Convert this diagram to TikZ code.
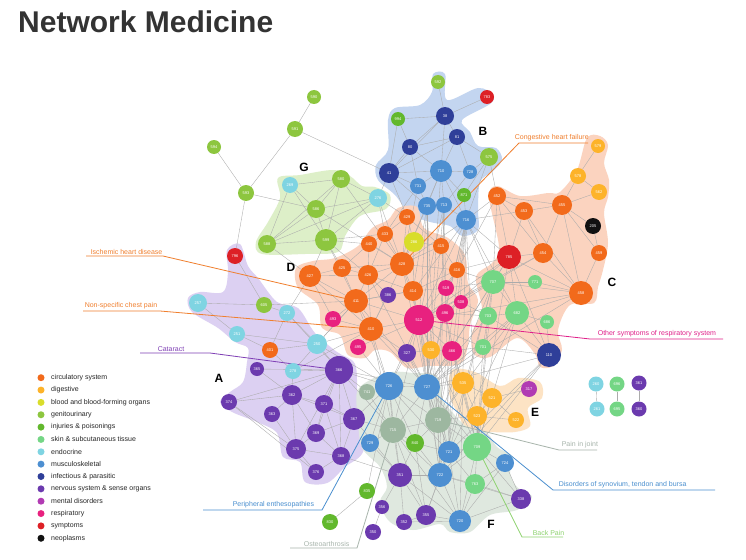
\documentclass[tikz,border=0pt]{standalone}
\usepackage{fontspec}
\setmainfont{Liberation Sans}
\definecolor{circ}{HTML}{F26A1B}
\definecolor{dige}{HTML}{FDB32A}
\definecolor{bloo}{HTML}{D9DD2B}
\definecolor{geni}{HTML}{8DC63F}
\definecolor{inju}{HTML}{62B82D}
\definecolor{skin}{HTML}{74D685}
\definecolor{endo}{HTML}{7FD4E2}
\definecolor{musc}{HTML}{4D8FD1}
\definecolor{infe}{HTML}{2F3F99}
\definecolor{nerv}{HTML}{6B3AAE}
\definecolor{ment}{HTML}{B13BB3}
\definecolor{resp}{HTML}{E8217F}
\definecolor{symp}{HTML}{DD2026}
\definecolor{neop}{HTML}{111111}
\definecolor{grgr}{HTML}{9DB7A0}
\definecolor{hullG}{HTML}{DDEFC8}
\definecolor{hullB}{HTML}{C3D5F0}
\definecolor{hullC}{HTML}{FBD3BF}
\definecolor{hullA}{HTML}{DCD0F2}
\definecolor{hullE}{HTML}{FDE3C4}
\definecolor{hullF}{HTML}{DFE8DF}
\definecolor{annoO}{HTML}{F07F2E}
\definecolor{annoP}{HTML}{7F3FB5}
\definecolor{annoK}{HTML}{E0218A}
\definecolor{annoG}{HTML}{A8B5AC}
\definecolor{annoB}{HTML}{4A8FCF}
\definecolor{annoL}{HTML}{8ED36F}
\definecolor{titlegray}{HTML}{333333}
\newcommand{\nlab}{\fontsize{4}{4.5}\selectfont}
\newcommand{\mkn}[4]{\node[nd=#2, ns=#3] (n#1) at (#4) {#1};}
\pgfdeclarelayer{paper}
\pgfdeclarelayer{hulls}
\pgfdeclarelayer{edges}
\pgfsetlayers{paper,hulls,edges,main}
\tikzset{
  nd/.style={circle, fill=#1, inner sep=0pt, text=white, font=\nlab},
  ns/.style={minimum size=#1pt},
  edge/.style={draw=black!33, line width=0.35pt},
  hull/.style={fill=#1, draw=none},
  annoline/.style={draw=#1, line width=0.8pt},
  anno/.style={text=#1, font=\fontsize{7}{8}\selectfont, inner sep=0.6pt, anchor=south west},
  clab/.style={font=\fontsize{12}{12}\selectfont\bfseries, text=black},
  legdot/.style={circle, inner sep=0pt, minimum size=7pt},
  legtxt/.style={anchor=west, inner sep=0pt, font=\fontsize{7}{8}\selectfont, text=black!85}
}
\begin{document}
\begin{tikzpicture}[x=1pt,y=-1pt]
\useasboundingbox (0,0) rectangle (746,559);
\begin{pgfonlayer}{paper}
\fill[white] (0,0) rectangle (746,559);
\end{pgfonlayer}
\node[anchor=base west, inner sep=0pt, font=\fontsize{30}{30}\selectfont\bfseries, text=titlegray] (title) at (18,33) {Network Medicine};

% hulls
\begin{pgfonlayer}{hulls}
\fill[hull=hullG] plot[smooth cycle, tension=0.55] coordinates {(278,178) (300,175) (333,170) (350,176) (362,186) (375,187) (390,195) (386,209) (360,216) (345,236) (338,252) (305,254) (262,254) (256,242) (268,222) (280,198)};
\fill[hull=hullB] plot[smooth cycle, tension=0.55] coordinates {(388,120) (395,108) (420,105) (432,92) (433,74) (445,74) (447,100) (478,88) (493,95) (490,104) (462,120) (470,132) (478,146) (496,148) (502,160) (492,172) (480,182) (478,210) (478,230) (462,236) (450,226) (430,222) (410,214) (395,195) (378,180) (376,165) (388,150)};
\fill[hull=hullC] plot[smooth cycle, tension=0.55] coordinates {(587,138) (600,136) (608,145) (604,163) (609,180) (608,197) (604,213) (608,243) (603,270) (598,287) (594,303) (570,305) (558,330) (562,350) (553,366) (540,367) (535,354) (517,338) (490,357) (474,354) (472,333) (482,310) (476,277) (492,263) (499,247) (489,197) (497,186) (520,196) (548,193) (560,192) (577,170)};
\fill[hull=hullC] plot[smooth cycle, tension=0.55] coordinates {(398,208) (417,207) (424,228) (448,238) (465,255) (468,283) (478,300) (470,325) (468,345) (460,364) (428,366) (407,368) (390,352) (375,350) (365,358) (348,355) (340,335) (322,328) (318,305) (298,288) (296,268) (313,261) (335,258) (358,246) (372,228) (388,220)};
\fill[hull=hullA] plot[smooth cycle, tension=0.55] coordinates {(227,250) (240,244) (248,266) (258,278) (277,302) (298,308) (315,333) (337,352) (355,364) (358,397) (367,417) (363,452) (345,467) (327,483) (305,482) (300,462) (283,457) (277,433) (257,422) (232,412) (220,402) (230,392) (243,382) (247,362) (248,348) (235,342) (218,328) (192,312) (188,298) (200,292) (223,292) (228,272)};
\fill[hull=hullE] plot[smooth cycle, tension=0.55] coordinates {(452,370) (475,372) (500,386) (518,378) (540,382) (542,398) (528,408) (530,426) (515,432) (490,432) (468,430) (457,412) (449,393)};
\fill[hull=hullF] plot[smooth cycle, tension=0.55] coordinates {(370,380) (392,372) (413,373) (437,376) (443,400) (453,413) (467,427) (487,433) (497,447) (513,457) (510,473) (517,487) (532,497) (517,510) (490,515) (470,532) (450,532) (440,524) (413,530) (390,522) (380,502) (387,487) (380,467) (362,448) (358,420) (357,392)};
\end{pgfonlayer}

% G
\mkn{590}{geni}{14}{314,97}
\mkn{591}{geni}{16}{295,129}
\mkn{594}{geni}{14}{214,147}
\mkn{593}{geni}{16}{246,193}
\mkn{269}{endo}{16}{290,185}
\mkn{580}{geni}{18}{341,179}
\mkn{586}{geni}{18}{316,209}
\mkn{276}{endo}{18}{378,198}
\mkn{588}{geni}{18}{267,244}
\mkn{599}{geni}{22}{326,240}
% B
\mkn{592}{geni}{14}{438,82}
\mkn{783}{symp}{14}{487,97}
\mkn{38}{infe}{18}{445,116}
\mkn{994}{inju}{14}{398,119}
\mkn{41}{infe}{20}{389,173}
\mkn{80}{infe}{16}{410,147}
\mkn{81}{infe}{16}{457,137}
\mkn{575}{geni}{18}{489,157}
\mkn{710}{musc}{22}{441,171}
\mkn{728}{musc}{14}{470,172}
\mkn{731}{musc}{16}{418,186}
\mkn{871}{inju}{14}{464,195}
\mkn{735}{musc}{18}{427,206}
\mkn{713}{musc}{16}{444,205}
\mkn{716}{musc}{20}{466,220}
% C
\mkn{579}{dige}{14}{598,146}
\mkn{578}{dige}{16}{578,176}
\mkn{562}{dige}{16}{599,192}
\mkn{452}{circ}{18}{497,196}
\mkn{453}{circ}{18}{524,211}
\mkn{455}{circ}{20}{562,205}
\mkn{205}{neop}{16}{593,226}
\mkn{454}{circ}{20}{543,253}
\mkn{785}{symp}{24}{509,257}
\mkn{459}{circ}{16}{599,253}
\mkn{458}{circ}{24}{581,293}
\mkn{707}{skin}{24}{493,282}
\mkn{771}{skin}{14}{535,282}
\mkn{682}{skin}{24}{517,313}
\mkn{703}{skin}{18}{488,316}
\mkn{686}{skin}{14}{547,322}
\mkn{701}{skin}{16}{483,347}
\mkn{110}{infe}{24}{549,355}
% D
\mkn{429}{circ}{16}{407,217}
\mkn{433}{circ}{16}{385,234}
\mkn{440}{circ}{16}{369,244}
\mkn{286}{bloo}{20}{414,242}
\mkn{415}{circ}{16}{441,246}
\mkn{428}{circ}{24}{402,264}
\mkn{425}{circ}{18}{342,268}
\mkn{426}{circ}{20}{368,275}
\mkn{427}{circ}{22}{310,276}
\mkn{416}{circ}{16}{457,270}
\mkn{414}{circ}{20}{413,291}
\mkn{411}{circ}{24}{356,301}
\mkn{386}{nerv}{16}{388,295}
\mkn{519}{resp}{16}{446,288}
\mkn{508}{resp}{14}{461,302}
\mkn{493}{resp}{16}{333,319}
\mkn{512}{resp}{30}{419,320}
\mkn{496}{resp}{18}{445,313}
\mkn{410}{circ}{24}{371,329}
\mkn{495}{resp}{16}{358,347}
\mkn{327}{nerv}{18}{407,353}
\mkn{530}{dige}{18}{431,350}
\mkn{466}{resp}{20}{452,351}
% A
\mkn{796}{symp}{16}{235,256}
\mkn{257}{endo}{18}{198,303}
\mkn{605}{geni}{16}{264,305}
\mkn{272}{endo}{16}{287,313}
\mkn{251}{endo}{16}{237,334}
\mkn{401}{circ}{16}{270,350}
\mkn{250}{endo}{20}{317,344}
\mkn{365}{nerv}{14}{257,369}
\mkn{278}{endo}{16}{293,371}
\mkn{366}{nerv}{28}{339,370}
\mkn{374}{nerv}{16}{229,402}
\mkn{362}{nerv}{20}{292,395}
\mkn{371}{nerv}{18}{324,404}
\mkn{363}{nerv}{16}{272,414}
\mkn{367}{nerv}{22}{354,419}
\mkn{369}{nerv}{18}{316,433}
\mkn{375}{nerv}{20}{296,449}
\mkn{368}{nerv}{18}{341,456}
\mkn{376}{nerv}{16}{316,472}
% F
\mkn{741}{grgr}{16}{367,392}
\mkn{726}{musc}{28}{389,386}
\mkn{727}{musc}{26}{427,387}
\mkn{719}{grgr}{26}{438,420}
\mkn{715}{grgr}{26}{393,430}
\mkn{840}{inju}{18}{415,443}
\mkn{729}{musc}{18}{370,443}
\mkn{721}{musc}{22}{449,452}
\mkn{709}{skin}{28}{477,447}
\mkn{724}{musc}{18}{505,463}
\mkn{351}{nerv}{24}{400,475}
\mkn{722}{musc}{24}{440,475}
\mkn{763}{skin}{20}{475,484}
\mkn{835}{inju}{16}{367,491}
\mkn{338}{nerv}{20}{521,499}
\mkn{356}{nerv}{14}{382,507}
\mkn{355}{nerv}{20}{426,515}
\mkn{352}{nerv}{16}{404,522}
\mkn{720}{musc}{22}{460,521}
\mkn{350}{nerv}{16}{373,532}
\mkn{830}{inju}{16}{330,522}
% E
\mkn{535}{dige}{22}{463,383}
\mkn{521}{dige}{20}{492,398}
\mkn{317}{ment}{16}{529,389}
\mkn{523}{dige}{20}{477,416}
\mkn{522}{dige}{16}{516,420}
% isolated pairs
\mkn{260}{endo}{15}{596,384}
\mkn{261}{endo}{15}{597,409}
\mkn{696}{skin}{15}{617,384}
\mkn{695}{skin}{15}{617,409}
\mkn{361}{nerv}{15}{639,383}
\mkn{360}{nerv}{15}{639,409}

% cluster letters
\node[clab] (lA) at (219,378) {A};
\node[clab] (lB) at (483,131) {B};
\node[clab] (lC) at (612,282) {C};
\node[clab] (lD) at (291,267) {D};
\node[clab] (lE) at (535,412) {E};
\node[clab] (lF) at (491,524) {F};
\node[clab] (lG) at (304,167) {G};

\begin{pgfonlayer}{edges}
\foreach \a/\b in {590/591, 591/593, 591/41, 594/593, 593/796, 593/586, 269/580, 269/588, 269/599, 269/586, 580/586, 580/588, 580/599, 580/276, 586/588, 586/599, 586/276, 588/599, 588/276, 599/276, 276/41, 276/429, 276/433, 599/440, 599/425, 599/426, 599/427, 588/427, 580/428, 586/428, 599/411, 276/428, 599/433,
592/38, 783/38, 38/80, 38/81, 38/41, 38/710, 81/80, 81/41, 81/710, 81/575, 81/728, 80/41, 80/710, 80/731, 41/710, 41/731, 41/735, 710/728, 710/731, 710/735, 710/713, 710/716, 710/871, 728/713, 728/575, 735/713, 713/716, 731/735, 994/41, 994/80, 575/871, 575/716, 871/716, 994/38, 575/452, 41/429, 731/433,
579/578, 578/562, 578/455, 562/455, 452/453, 452/455, 452/454, 452/785, 453/455, 453/454, 453/785, 455/454, 455/205, 455/459, 455/458, 454/785, 454/458, 454/707, 785/707, 785/458, 785/682, 785/110, 459/458, 707/771, 707/682, 707/703, 707/458, 771/458, 682/703, 682/458, 682/110, 682/701, 682/686, 703/701, 703/110, 686/110, 701/110, 205/459, 453/458, 452/707,
429/433, 429/428, 429/286, 429/415, 433/440, 433/428, 440/426, 440/428, 286/428, 286/415, 415/428, 415/416, 428/426, 428/425, 428/414, 428/411, 428/416, 428/512, 425/426, 425/427, 425/411, 426/427, 426/411, 426/414, 426/410, 427/411, 427/410, 411/414, 411/410, 411/493, 411/386, 411/512, 386/414, 414/512, 414/519, 416/519, 519/508, 519/496, 508/496, 512/496, 512/410, 512/327, 512/530, 512/466, 512/495, 410/495, 410/493, 410/327, 496/466, 466/530, 327/530, 410/386, 426/386, 414/416, 416/512, 428/410, 440/425, 433/426, 286/414, 415/519, 427/493,
796/605, 257/605, 257/251, 272/401, 272/250, 251/250, 401/250, 250/366, 272/366, 278/366, 365/366, 362/366, 371/366, 367/366, 374/366, 362/371, 362/363, 362/369, 362/375, 362/367, 371/369, 371/367, 371/368, 367/369, 367/368, 369/375, 369/368, 375/376, 368/376, 375/368, 374/362, 374/375, 363/375, 366/369, 366/368, 250/411, 272/427, 605/411, 605/272, 251/401, 401/278, 250/278, 365/362, 278/362, 374/376, 366/375,
741/726, 726/727, 726/715, 726/719, 726/840, 726/729, 726/351, 726/721, 727/719, 727/715, 727/721, 727/709, 727/722, 727/840, 719/715, 719/721, 719/709, 719/722, 719/840, 715/840, 715/729, 715/351, 715/722, 840/721, 840/351, 840/722, 721/709, 721/722, 721/763, 721/720, 709/724, 709/763, 709/722, 709/720, 724/763, 724/338, 351/722, 351/356, 351/352, 351/355, 722/763, 722/355, 722/720, 722/338, 763/720, 763/338, 720/355, 720/338, 355/352, 356/350, 835/830, 835/726, 729/351, 720/352, 715/720, 351/720, 741/715, 715/355, 840/355, 721/355, 709/338, 724/720,
535/521, 535/523, 521/317, 521/523, 521/522, 523/522, 535/727, 535/719, 535/466, 523/709, 535/709, 523/719, 521/709,
716/428, 716/414, 716/512, 716/727, 716/719, 716/721, 716/722, 716/709, 716/707, 716/785, 716/682, 716/416, 716/496, 735/428, 735/414, 735/512, 735/727, 713/512, 713/727, 713/719, 713/721, 710/428, 731/428, 785/416, 785/512, 785/496, 785/727, 785/709, 707/512, 707/727, 707/719, 707/721, 707/709, 707/722, 682/727, 682/719, 682/709, 682/721, 703/727, 703/709, 701/727, 701/709, 110/727, 110/709, 110/721, 110/722, 458/512, 458/727, 454/512, 452/716, 452/416, 453/716, 512/727, 512/726, 512/719, 512/721, 512/722, 512/709, 512/715, 466/727, 466/719, 466/709, 466/721, 530/727, 530/719, 327/726, 327/727, 327/719, 410/726, 410/727, 410/715, 495/726, 411/726, 411/727, 414/727, 428/727, 426/727, 496/727, 496/709, 366/726, 366/727, 366/715, 366/741, 367/726, 367/715, 367/351, 368/351, 250/726, 250/410, 250/411, 278/410, 735/722, 713/722, 716/720, 710/727, 416/707, 519/707, 508/707, 508/703, 496/703, 466/701, 512/701,
260/261, 696/695, 361/360}
  \draw[edge] (n\a) -- (n\b);

% annotation lines
\coordinate (chfA) at (519,143); \coordinate (chfB) at (588,143);
\coordinate (ihdA) at (163,256); \coordinate (ihdB) at (86,256);
\coordinate (nscA) at (160,311); \coordinate (nscB) at (83,311);
\coordinate (catA) at (210,353); \coordinate (catB) at (140,353);
\coordinate (osrA) at (590,339); \coordinate (osrB) at (723,339);
\coordinate (pijA) at (559,450); \coordinate (pijB) at (597,450);
\coordinate (dstA) at (553,490); \coordinate (dstB) at (715,490);
\coordinate (bpA) at (522,537); \coordinate (bpB) at (563,537);
\coordinate (oaA) at (357,548); \coordinate (oaB) at (290,548);
\coordinate (peA) at (322,510); \coordinate (peB) at (203,510);
\draw[annoline=annoO] (n428.center) -- (chfA) -- (chfB);
\draw[annoline=annoO] (n411.center) -- (ihdA) -- (ihdB);
\draw[annoline=annoO] (n410.center) -- (nscA) -- (nscB);
\draw[annoline=annoP] (n366.center) -- (catA) -- (catB);
\draw[annoline=annoK] (n512.center) -- (osrA) -- (osrB);
\draw[annoline=annoG] (n719.center) -- (pijA) -- (pijB);
\draw[annoline=annoB] (n727.center) -- (dstA) -- (dstB);
\draw[annoline=annoL] (n709.center) -- (bpA) -- (bpB);
\draw[annoline=annoG] (n715.center) -- (oaA) -- (oaB);
\draw[annoline=annoB] (n726.center) -- (peA) -- (peB);
\end{pgfonlayer}

\node[anno=annoO] (tchf) at (514,142) {Congestive heart failure};
\node[anno=annoO] (tihd) at (90,255) {Ischemic heart disease};
\node[anno=annoO] (tnsc) at (84,310) {Non-specific chest pain};
\node[anno=annoP] (tcat) at (157,352) {Cataract};
\node[anno=annoK] (tosr) at (597,338) {Other symptoms of respiratory system};
\node[anno=annoG] (tpij) at (561,449) {Pain in joint};
\node[anno=annoB] (tdst) at (558,489) {Disorders of synovium, tendon and bursa};
\node[anno=annoL] (tbp) at (532,536) {Back Pain};
\node[anno=annoG] (toa) at (303,547) {Osteoarthrosis};
\node[anno=annoB] (tpe) at (232,509) {Peripheral enthesopathies};

% legend
\foreach \c/\t [count=\i] in {circ/circulatory system, dige/digestive, bloo/blood and blood-forming organs, geni/genitourinary, inju/injuries \& poisonings, skin/skin \& subcutaneous tissue, endo/endocrine, musc/musculoskeletal, infe/infectious \& parasitic, nerv/nervous system \& sense organs, ment/mental disorders, resp/respiratory, symp/symptoms, neop/neoplasms} {
  \node[legdot, fill=\c] (ld\i) at (41,365.35+12.35*\i) {};
  \node[legtxt] (lt\i) at (51,365.35+12.35*\i) {\t};
}
\end{tikzpicture}
\end{document}
